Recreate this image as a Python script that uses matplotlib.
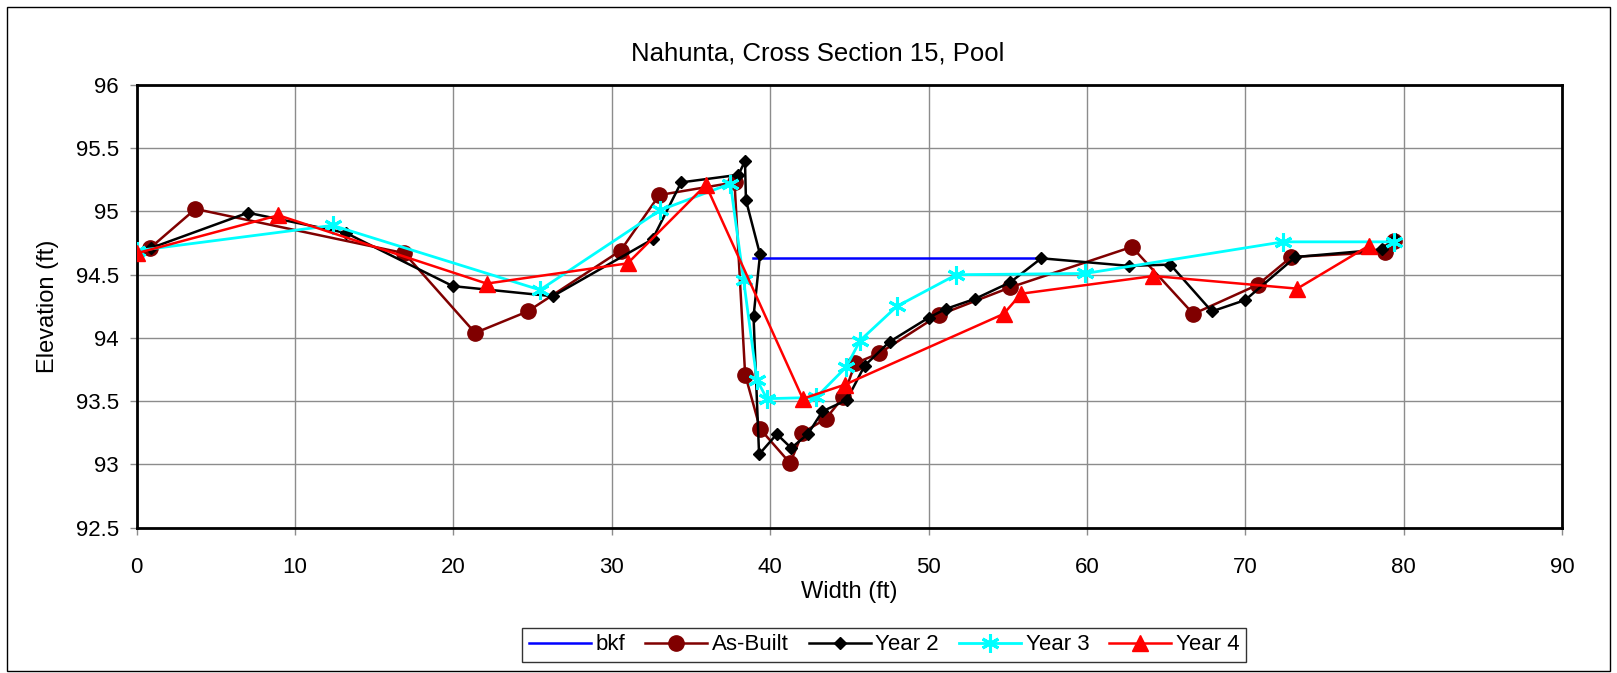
import matplotlib
matplotlib.use("Agg")
import matplotlib.pyplot as plt
from matplotlib.patches import Rectangle

plt.rcParams['font.family'] = ['Liberation Sans', 'DejaVu Sans']

# bankfull line
bkf_x = [38.9, 57.1]
bkf_y = [94.63, 94.63]

# as-built survey
asbuilt_x = [0.84, 3.71, 16.9, 21.37, 24.69, 30.55, 33.0, 37.75, 38.42, 39.37,
             41.26, 42.04, 43.5, 44.6, 45.37, 46.9, 50.63, 55.16, 62.84, 66.72,
             70.78, 72.9, 78.85, 79.4]
asbuilt_y = [94.71, 95.02, 94.67, 94.04, 94.21, 94.69, 95.13, 95.23, 93.71, 93.28,
             93.01, 93.25, 93.36, 93.53, 93.80, 93.88, 94.18, 94.40, 94.72, 94.19,
             94.42, 94.64, 94.68, 94.77]

# year 2 survey
year2_x = [0.88, 7.02, 13.22, 19.96, 26.27, 32.57, 34.38, 38.0, 38.41, 38.47,
           39.36, 38.95, 39.3, 40.42, 41.33, 42.38, 43.3, 44.84, 45.96, 47.54,
           50.0, 51.1, 52.95, 55.16, 57.12, 62.65, 65.27, 67.89, 70.0, 73.17,
           78.62, 79.45]
year2_y = [94.71, 94.99, 94.83, 94.41, 94.33, 94.78, 95.23, 95.29, 95.40, 95.09,
           94.66, 94.17, 93.08, 93.24, 93.13, 93.24, 93.42, 93.51, 93.78, 93.97,
           94.16, 94.23, 94.31, 94.44, 94.63, 94.57, 94.58, 94.21, 94.30, 94.64,
           94.70, 94.78]

# year 3 survey
year3_x = [0.0, 12.37, 25.47, 33.05, 37.49, 38.32, 39.16, 39.79, 42.9, 44.8,
           45.68, 48.0, 51.75, 59.9, 72.39, 79.4]
year3_y = [94.69, 94.89, 94.38, 95.01, 95.22, 94.46, 93.67, 93.52, 93.53, 93.77,
           93.98, 94.25, 94.50, 94.51, 94.76, 94.76]

# year 4 survey
year4_x = [0.0, 8.95, 22.1, 31.0, 35.94, 42.06, 44.7, 54.74, 55.85, 64.2,
           73.28, 77.82]
year4_y = [94.67, 94.97, 94.43, 94.59, 95.21, 93.52, 93.63, 94.19, 94.35, 94.49,
           94.39, 94.73]

x_ticks = list(range(0, 91, 10))
y_ticks = [92.5, 93, 93.5, 94, 94.5, 95, 95.5, 96]
y_labels = ['92.5', '93', '93.5', '94', '94.5', '95', '95.5', '96']

W, H = 1617, 673
fig = plt.figure(figsize=(W / 100, H / 100), dpi=100)
fig.patch.set_facecolor('white')

# thin frame around the whole chart
fig.add_artist(Rectangle((7 / W, 2 / H), 1603 / W, 664 / H, transform=fig.transFigure,
                         fill=False, edgecolor='black', linewidth=1.0))

ax = fig.add_axes([136.7 / W, 1 - 527.7 / H, 1425.3 / W, 442.7 / H])

ax.plot(bkf_x, bkf_y, color='#0000FF', lw=1.8, label='bkf', zorder=3)
ax.plot(asbuilt_x, asbuilt_y, color='#800000', lw=1.8, marker='o', ms=11,
        label='As-Built', zorder=4)
ax.plot(year2_x, year2_y, color='black', lw=1.8, marker='D', ms=6,
        label='Year 2', zorder=5)
ax.plot(year3_x, year3_y, color='#00FFFF', lw=2.0, marker=(6, 2, 0), ms=13, mew=2.2,
        label='Year 3', zorder=6)
ax.plot(year4_x, year4_y, color='#FF0000', lw=1.8, marker='^', ms=12,
        label='Year 4', zorder=7)

ax.set_xlim(0, 90)
ax.set_ylim(92.5, 96)
ax.set_xticks(x_ticks)
ax.set_yticks(y_ticks)
ax.set_yticklabels(y_labels)
ax.grid(True, color='#8c8c8c', lw=1.0)
ax.set_axisbelow(True)
for s in ax.spines.values():
    s.set_linewidth(2.0)
    s.set_color('black')
ax.tick_params(axis='both', labelsize=16, length=5, width=1, color='#8c8c8c')
ax.tick_params(axis='x', pad=16)
ax.tick_params(axis='y', pad=8)

ax.set_xlabel('Width (ft)', fontsize=17, labelpad=2)
ax.set_ylabel('Elevation (ft)', fontsize=17, labelpad=12)
fig.text(818 / W, 1 - 53 / H, 'Nahunta, Cross Section 15, Pool', fontsize=18.5,
         ha='center', va='center')

leg = fig.legend(loc='center', bbox_to_anchor=(884 / W, 1 - 645 / H), ncol=5,
                 fontsize=16, frameon=True, fancybox=False, handlelength=2.8,
                 columnspacing=0.9, handletextpad=0.2, borderpad=0.3,
                 borderaxespad=0)
leg.get_frame().set_edgecolor('black')
leg.get_frame().set_linewidth(1.0)

fig.savefig('out.png', dpi=100)
